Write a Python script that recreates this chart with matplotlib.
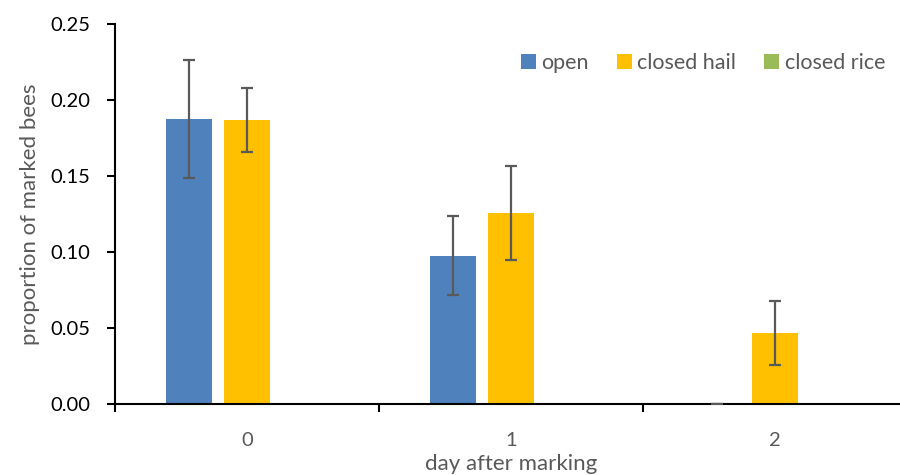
import numpy as np
import matplotlib
matplotlib.use("Agg")
import matplotlib.pyplot as plt

plt.rcParams["font.family"] = ["Lato", "DejaVu Sans"]

days = ["0", "1", "2"]
series = ["open", "closed hail", "closed rice"]
open_mean = [0.1875, 0.0974, 0.0]
open_err = [0.039, 0.026, 0.0]
hail_mean = [0.187, 0.1257, 0.0467]
hail_err = [0.021, 0.031, 0.021]
rice_mean = [0.0, 0.0, 0.0]

colors = ["#4F81BD", "#FFC000", "#9BBB59"]
text_col = "#595959"

fig = plt.figure(figsize=(9, 4.75), dpi=100)
ax = fig.add_axes([115 / 900, 71 / 475, 792 / 900, 380 / 475])

x = np.arange(len(days))
bw = 46 / 264
step = 58 / 264

err_kw = dict(ecolor="#595959", elinewidth=1.6, capsize=4.5, capthick=1.6, zorder=4)
ax.bar(x - step, open_mean, bw, color=colors[0], label=series[0],
       yerr=open_err, error_kw=err_kw)
ax.bar(x, hail_mean, bw, color=colors[1], label=series[1],
       yerr=hail_err, error_kw=err_kw)
ax.bar(x + step, rice_mean, bw, color=colors[2], label=series[2])

ax.set_xlim(-0.5, 2.5)
ax.set_ylim(0, 0.25)
yt = np.arange(0, 0.2501, 0.05)
ax.set_yticks(yt)
ax.set_yticklabels([f"{v:.2f}" for v in yt])
ax.set_xticks(x)
ax.set_xticklabels(days)
ax.set_xticks([-0.5, 0.5, 1.5], minor=True)
ax.tick_params(axis="x", which="major", length=0, pad=20, labelsize=14.5, labelcolor=text_col)
ax.tick_params(axis="x", which="minor", length=6, width=1.5, direction="out", color="black")
ax.tick_params(axis="y", length=6, width=1.5, direction="out", labelsize=14.5,
               labelcolor="black", pad=12)

for s in ["top", "right"]:
    ax.spines[s].set_visible(False)
ax.spines["left"].set_linewidth(1.5)
ax.spines["bottom"].set_linewidth(1.5)

ax.set_ylabel("proportion of marked bees", fontsize=16, color=text_col, labelpad=7)
ax.set_xlabel("day after marking", fontsize=16, color=text_col, labelpad=4)

leg = ax.legend(loc="upper right", bbox_to_anchor=(0.997, 0.975), ncol=3, frameon=False,
                fontsize=15.5, handlelength=0.7, handleheight=0.7, handletextpad=0.25,
                columnspacing=1.3)
for t in leg.get_texts():
    t.set_color(text_col)

fig.savefig("out.png", dpi=100)
